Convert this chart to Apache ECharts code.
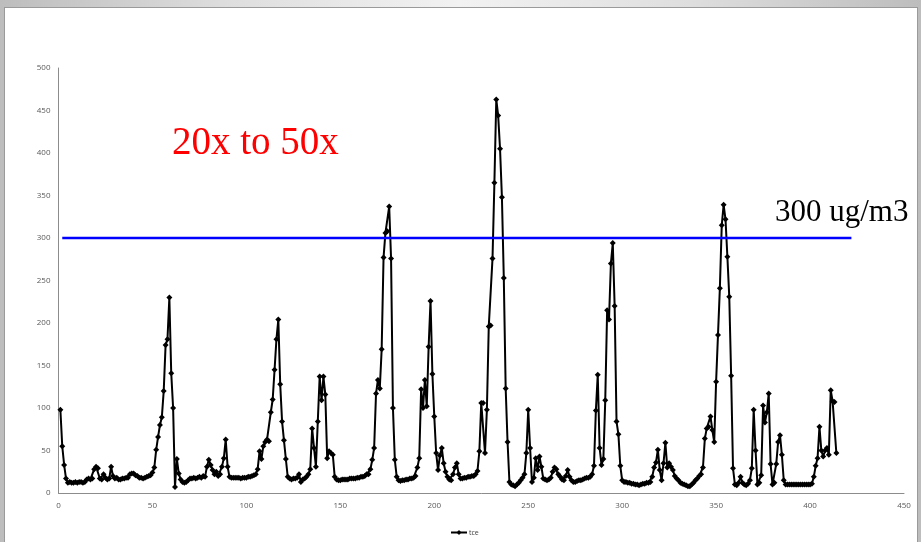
<!DOCTYPE html>
<html>
<head>
<meta charset="utf-8">
<script src="https://cdn.jsdelivr.net/npm/echarts@6/dist/echarts.min.js"></script>
<style>
  html, body { margin: 0; padding: 0; width: 921px; height: 542px; overflow: hidden;
    background: linear-gradient(to right, #bdbdbd 0%, #dedede 25%, #f2f2f2 50%, #dedede 75%, #bdbdbd 100%); }
  #panel { position: absolute; left: 4px; top: 7px; width: 912px; height: 540px; background: #fff;
    border-left: 1px solid #9a9a9a; border-top: 1px solid #9a9a9a; border-right: 1px solid #9a9a9a; }
  #chart { position: absolute; left: 0; top: 0; width: 921px; height: 542px; }
</style>
</head>
<body>
<div id="panel"></div>
<div id="chart"></div>
<script>
// x positions are 1..N (sample index)
const tceValues = [
  98, 55, 33, 17, 12, 13, 12, 12, 13, 12,
  13, 13, 12, 13, 16, 17, 16, 17, 28, 31,
  29, 17, 16, 22, 18, 16, 17, 31, 20, 17,
  18, 16, 16, 17, 17, 18, 18, 22, 23, 23,
  21, 20, 18, 18, 17, 18, 19, 20, 21, 24,
  30, 51, 66, 80, 89, 120, 174, 181, 230, 141,
  100, 7, 40, 23, 16, 13, 12, 13, 15, 17,
  17, 18, 17, 18, 19, 18, 20, 19, 31, 39,
  33, 27, 22, 25, 20, 22, 31, 41, 63, 31,
  19, 18, 18, 18, 18, 18, 17, 18, 18, 18,
  19, 19, 20, 21, 22, 28, 49, 40, 55, 60,
  63, 61, 95, 110, 145, 181, 204, 128, 84, 62,
  40, 19, 17, 16, 17, 17, 18, 22, 13, 16,
  17, 19, 22, 28, 76, 53, 31, 84, 137, 109,
  137, 116, 41, 49, 47, 45, 19, 16, 15, 15,
  16, 16, 16, 16, 17, 17, 17, 17, 18, 18,
  19, 19, 20, 22, 22, 28, 39, 53, 117, 133,
  123, 169, 277, 306, 308, 337, 276, 100, 39, 19,
  15, 14, 15, 15, 16, 16, 17, 17, 18, 20,
  30, 41, 122, 100, 133, 102, 172, 226, 140, 90,
  47, 27, 44, 53, 35, 25, 19, 16, 15, 22,
  30, 35, 22, 17, 17, 18, 18, 19, 19, 20,
  20, 22, 26, 49, 106, 106, 47, 98, 196, 197,
  276, 365, 463, 444, 405, 348, 253, 123, 60, 13,
  10, 9, 8, 10, 12, 15, 18, 22, 47, 98,
  53, 13, 18, 41, 27, 43, 31, 17, 16, 15,
  16, 18, 25, 30, 28, 22, 19, 16, 15, 20,
  27, 19, 15, 13, 13, 14, 15, 15, 16, 17,
  18, 18, 19, 22, 32, 97, 139, 53, 33, 40,
  109, 215, 204, 270, 294, 220, 84, 69, 32, 15,
  13, 13, 12, 12, 11, 11, 10, 10, 9, 10,
  11, 11, 12, 12, 13, 19, 30, 36, 51, 27,
  15, 35, 59, 30, 35, 31, 27, 20, 17, 15,
  12, 11, 10, 9, 8, 8, 10, 12, 15, 17,
  20, 22, 30, 64, 76, 78, 90, 74, 60, 131,
  186, 241, 315, 339, 322, 278, 231, 138, 29, 10,
  9, 12, 19, 12, 10, 9, 11, 15, 29, 98,
  50, 10, 12, 21, 103, 83, 95, 117, 34, 10,
  12, 34, 60, 68, 45, 15, 10, 10, 10, 10,
  10, 10, 10, 10, 10, 10, 10, 10, 10, 10,
  11, 19, 32, 41, 78, 50, 43, 50, 53, 45,
  121, 108, 107, 47
];
const seriesName = 'tce';
const thresholdValue = 300;
const thresholdXRange = [2, 422];
const xTicks = { min: 0, max: 450, interval: 50 };
const yTicks = { min: 0, max: 500, interval: 50 };
const annotationLeft = '20x to 50x';
const annotationRight = '300 ug/m3';

const tceData = tceValues.map((v, i) => [i + 1, v]);
const thresholdData = thresholdXRange.map(x => [x, thresholdValue]);

const chart = echarts.init(document.getElementById('chart'), null, { renderer: 'canvas' });
const labelFont = { fontFamily: 'Open Sans, Liberation Sans, sans-serif', fontSize: 8, color: '#595959' };
chart.setOption({
  backgroundColor: 'transparent',
  animation: false,
  grid: { left: 58.5, right: 17, top: 68, bottom: 49, containLabel: false },
  xAxis: {
    type: 'value', min: xTicks.min, max: xTicks.max, interval: xTicks.interval,
    axisLine: { show: true, lineStyle: { color: '#8c8c8c', width: 1 } },
    axisTick: { show: false },
    splitLine: { show: false },
    axisLabel: Object.assign({ margin: 9 }, labelFont)
  },
  yAxis: {
    type: 'value', min: yTicks.min, max: yTicks.max, interval: yTicks.interval,
    axisLine: { show: true, lineStyle: { color: '#8c8c8c', width: 1 } },
    axisTick: { show: false },
    splitLine: { show: false },
    axisLabel: Object.assign({ margin: 8 }, labelFont)
  },
  legend: {
    data: [seriesName],
    left: 445, top: 524,
    itemWidth: 16, itemHeight: 6, itemGap: 4,
    textStyle: { fontFamily: 'Open Sans, Liberation Sans, sans-serif', fontSize: 7, color: '#404040', padding: [0, 0, 0, -3] }
  },
  series: [
    {
      name: seriesName, type: 'line', data: tceData,
      symbol: 'diamond', symbolSize: 6, showSymbol: true,
      lineStyle: { color: '#000', width: 2 },
      itemStyle: { color: '#000' },
      z: 3
    },
    {
      name: 'threshold', type: 'line', data: thresholdData,
      symbol: 'none', lineStyle: { color: '#0000ff', width: 2.5 },
      z: 4, silent: true
    }
  ],
  graphic: [
    { type: 'text', left: 172, top: 124,
      style: { text: annotationLeft, fill: '#ff0000', font: '39px "Liberation Serif", "Times New Roman", serif' } },
    { type: 'text', left: 775, top: 197,
      style: { text: annotationRight, fill: '#000000', font: '31px "Liberation Serif", "Times New Roman", serif' } }
  ]
});
</script>
</body>
</html>
